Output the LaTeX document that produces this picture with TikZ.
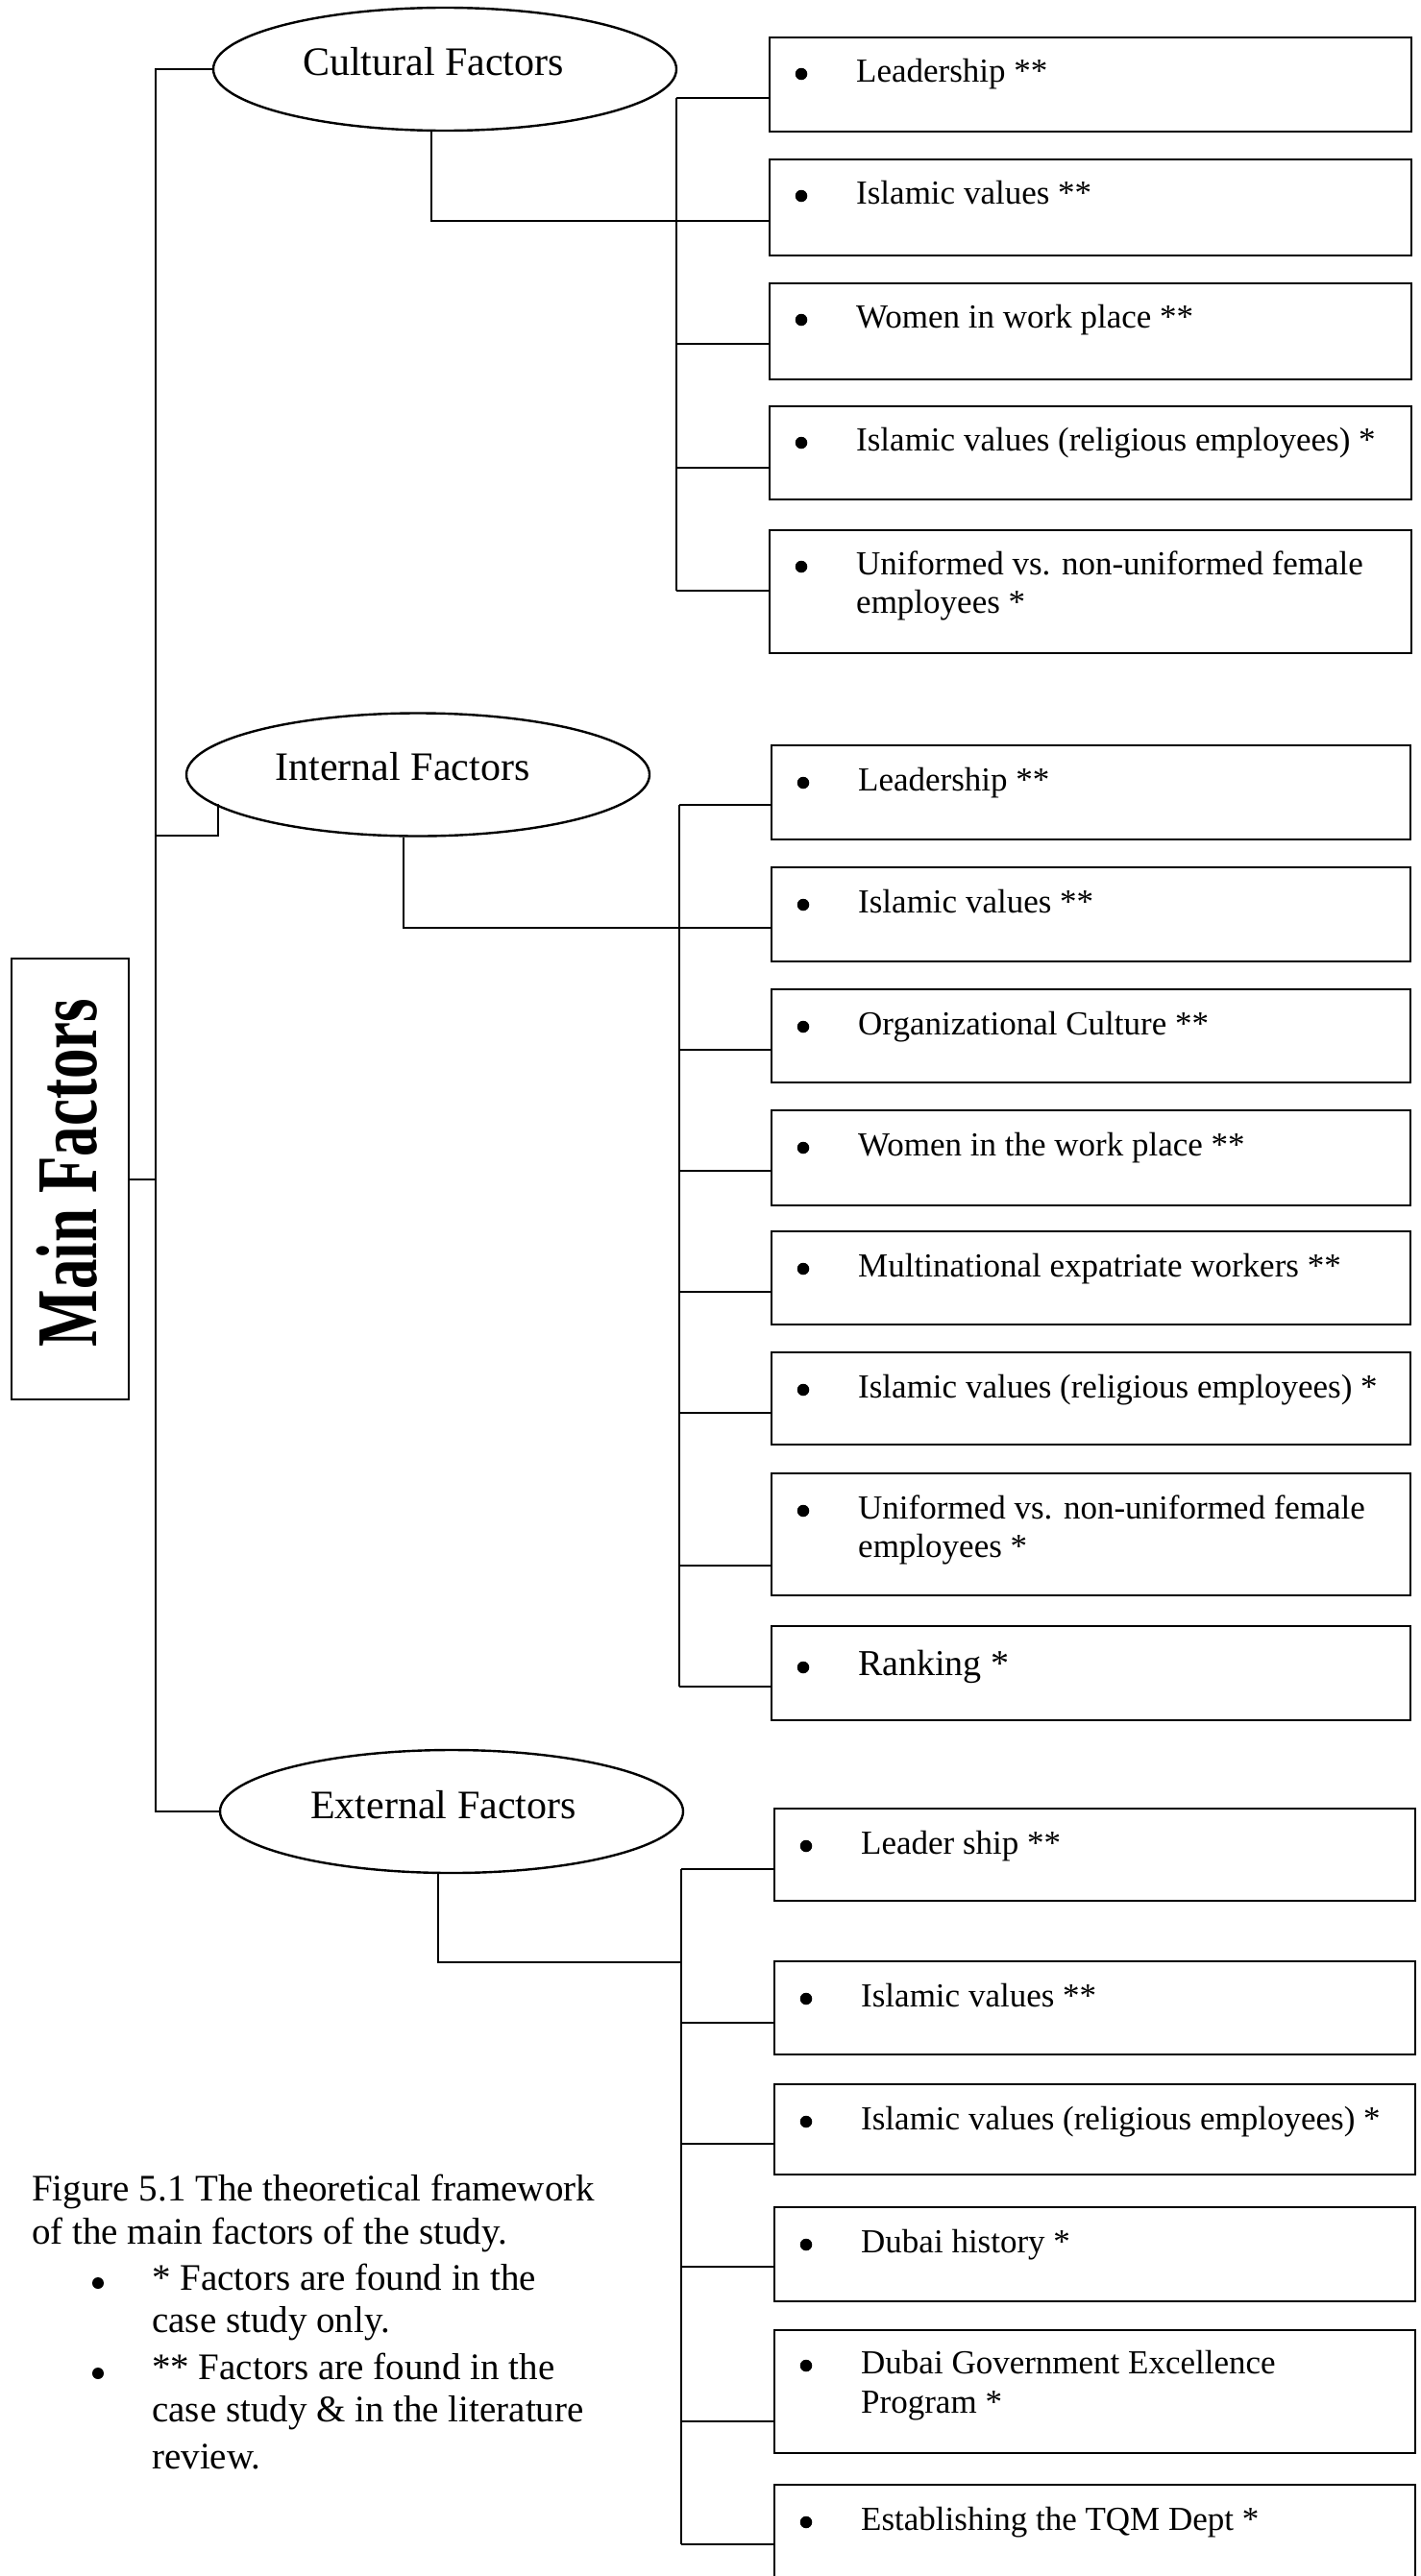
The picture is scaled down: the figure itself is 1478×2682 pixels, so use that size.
\documentclass[tikz,border=0pt]{standalone}
\usepackage{fontspec}
\setmainfont{Liberation Serif}
\usetikzlibrary{shapes.geometric}

\tikzset{
  x=1pt, y=-1pt,
  link/.style={line width=2pt},
  itembox/.style={draw, rectangle, line width=2.4pt, inner sep=0pt, anchor=north west},
  itembullet/.style={circle, fill, inner sep=0pt, minimum size=12.5pt},
  itemtext/.style={anchor=base west, inner sep=0pt, font=\fontsize{35}{40}\selectfont},
  group/.style={draw, ellipse, line width=2.4pt, inner sep=0pt, minimum width=482pt, minimum height=128pt},
  grouptext/.style={anchor=base, inner sep=0pt, font=\fontsize{42}{48}\selectfont},
  captext/.style={anchor=base west, inner sep=0pt, font=\fontsize{39}{46}\selectfont},
}

% \fitem{name}{left}{top}{height}{width}{branch offset}{text}{baseline offset}
\newcommand{\fitem}[8]{%
  \node[itembox, minimum width=#5pt, minimum height=#4pt] (#1) at (#2,#3) {};
  \node[itembullet] (#1-b) at ([xshift=34pt,yshift=-#8pt+8pt]#1.north west) {};
  \node[itemtext] (#1-t) at ([xshift=91pt,yshift=-#8pt]#1.north west) {#7};
  \coordinate (#1-in) at ([yshift=-#6pt]#1.north west);
}

\begin{document}
\begin{tikzpicture}
\useasboundingbox (0,0) rectangle (1478,2682);
\clip (0,0) rectangle (1478,2682);

% main box
\node[draw, line width=2.4pt, inner sep=0pt, minimum width=122pt, minimum height=459pt] (main) at (73,1227.5) {};
\node[rotate=90, anchor=base, inner sep=0pt, font=\fontsize{90}{100}\selectfont\bfseries] (main-t) at (100,1221) {\scalebox{0.7}[1]{Main Factors}};

% factor groups
\node[group] (cult) at (463,72) {};
\node[grouptext] (cult-t) at ([xshift=-12pt,yshift=-6pt]cult.center) {Cultural Factors};
\node[group] (int) at (435,806.5) {};
\node[grouptext] (int-t) at ([xshift=-16pt,yshift=-5.5pt]int.center) {Internal Factors};
\node[group] (ext) at (470,1886) {};
\node[grouptext] (ext-t) at ([xshift=-8.5pt,yshift=-7pt]ext.center) {External Factors};

% cultural items
\fitem{c1}{800}{38}{98}{668}{64}{Leadership **}{47}
\fitem{c2}{800}{165}{100}{668}{65}{Islamic values **}{47}
\fitem{c3}{800}{294}{100}{668}{64}{Women in work place **}{47}
\fitem{c4}{800}{422}{97}{668}{65}{Islamic values (religious employees) *}{47}
\fitem{c5}{800}{551}{128}{668}{64}{Uniformed vs. non-uniformed female}{47}
\node[itemtext] (c5-t2) at ([yshift=-40pt]c5-t.base west) {employees *};

% internal items
\fitem{i1}{802}{775}{98}{665}{63}{Leadership **}{48}
\fitem{i2}{802}{902}{98}{665}{64}{Islamic values **}{48}
\fitem{i3}{802}{1029}{97}{665}{64}{Organizational Culture **}{48}
\fitem{i4}{802}{1155}{99}{665}{64}{Women in the work place **}{48}
\fitem{i5}{802}{1281}{97}{665}{64}{Multinational expatriate workers **}{48}
\fitem{i6}{802}{1407}{96}{665}{64}{Islamic values (religious employees) *}{48}
\fitem{i7}{802}{1533}{127}{665}{97}{Uniformed vs. non-uniformed female}{48}
\node[itemtext] (i7-t2) at ([yshift=-40pt]i7-t.base west) {employees *};
\fitem{i8}{802}{1692}{98}{665}{64}{\fontsize{38}{44}\selectfont Ranking *}{52}

% external items
\fitem{e1}{805}{1882}{96}{667}{64}{Leader ship **}{48}
\fitem{e2}{805}{2041}{97}{667}{65}{Islamic values **}{48}
\fitem{e3}{805}{2169}{94}{667}{63}{Islamic values (religious employees) *}{48}
\fitem{e4}{805}{2297}{98}{667}{63}{Dubai history *}{48}
\fitem{e5}{805}{2425}{128}{667}{96}{Dubai Government Excellence}{46}
\node[itemtext] (e5-t2) at ([yshift=-41pt]e5-t.base west) {Program *};
\fitem{e6}{805}{2586}{140}{667}{63}{Establishing the TQM Dept *}{48}

% trunk from the main box to the three groups
\coordinate (tk) at (162,1000);
\draw[link] (cult.west) -| (tk) |- (ext.west);
\draw[link] (main.east) -- (main.east -| tk);
\coordinate (ik) at (227,870);
\draw[link] (tk |- ik) -- (ik) -- (ik |- int.188.7);

% cultural branches
\coordinate (cbus) at (704,0);
\coordinate (cdrop) at (449,0);
\draw[link] (cbus |- c1-in) -- (cbus |- c5-in);
\foreach \n in {c1,c2,c3,c4,c5} \draw[link] (cbus |- \n-in) -- (\n-in);
\draw[link] (cult.south -| cdrop) |- (c2-in);

% internal branches
\coordinate (ibus) at (707,0);
\coordinate (idrop) at (420,0);
\draw[link] (ibus |- i1-in) -- (ibus |- i8-in);
\foreach \n in {i1,i2,i3,i4,i5,i6,i7,i8} \draw[link] (ibus |- \n-in) -- (\n-in);
\draw[link] (int.south -| idrop) |- (i2-in);

% external branches
\coordinate (ebus) at (709,0);
\coordinate (edrop) at (456,2043);
\draw[link] (ebus |- e1-in) -- (ebus |- e6-in);
\foreach \n in {e1,e2,e3,e4,e5,e6} \draw[link] (ebus |- \n-in) -- (\n-in);
\draw[link] (ext.south -| edrop) -- (edrop) -- (ebus |- edrop);

% caption and legend
\node[captext] (cap1) at (33,2291) {Figure 5.1 The theoretical framework};
\node[captext] (cap2) at (33,2336) {of the main factors of the study.};
\node[itembullet, minimum size=12pt] (n1-b) at (102,2377) {};
\node[captext] (n1a) at (158,2384) {* Factors are found in the};
\node[captext] (n1b) at (158,2428) {case study only.};
\node[itembullet, minimum size=12pt] (n2-b) at (102,2471) {};
\node[captext] (n2a) at (158,2477) {** Factors are found in the};
\node[captext] (n2b) at (158,2521) {case study \& in the literature};
\node[captext] (n2c) at (158,2570) {review.};
\end{tikzpicture}
\end{document}
